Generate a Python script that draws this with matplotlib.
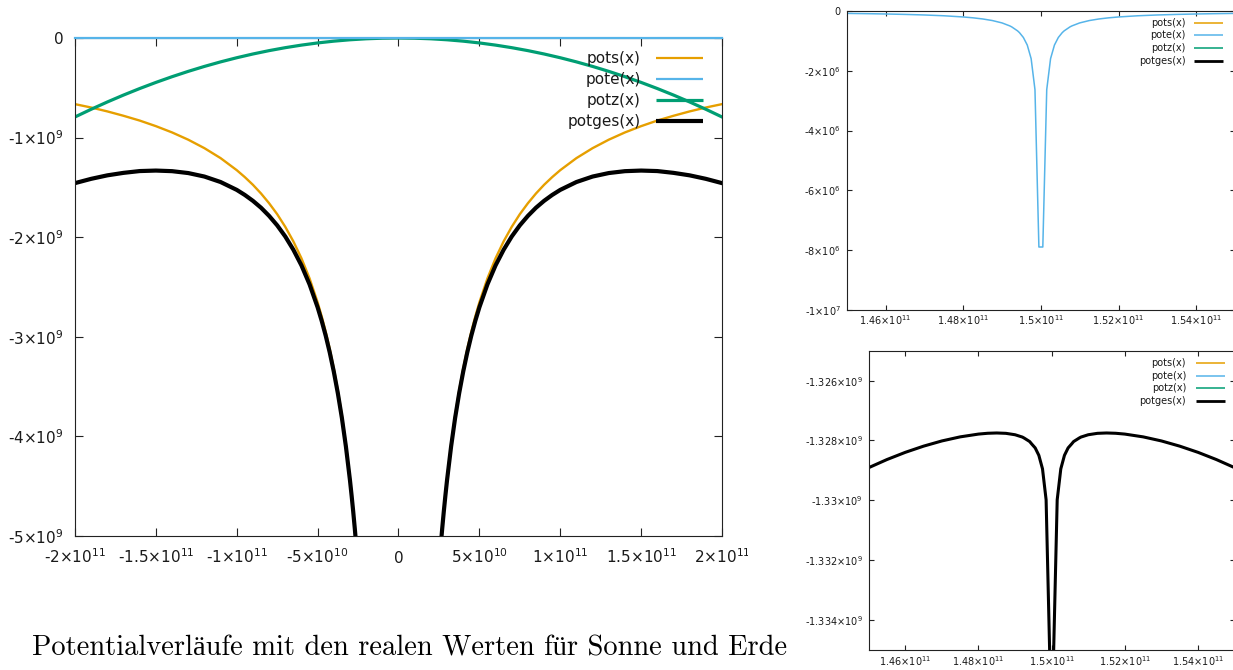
import matplotlib.pyplot as plt
from matplotlib.transforms import Bbox, TransformedBbox
import numpy as np

plt.rcParams['font.family'] = ['DejaVu Sans']
plt.rcParams['mathtext.default'] = 'regular'

# potentials: sun, earth, centrifugal, total
names = ['pots(x)', 'pote(x)', 'potz(x)', 'potges(x)']
colours = ['#e69f00', '#56b4e9', '#009e73', 'black']

# --- whole range, x in 1e10 m, potentials in 1e9 J/kg
sun_x = [-20, -19, -18, -17, -16, -15, -14, -13, -12, -11, -10, -9.5, -9, -8.5, -8, -7.5, -7, -6.5, -6, -5.5,
         -5, -4.75, -4.5, -4.25, -4, -3.75, -3.5, -3.25, -3, -2.9, -2.8, -2.7, -2.6,
         2.6, 2.7, 2.8, 2.9, 3, 3.25, 3.5, 3.75, 4, 4.25, 4.5, 4.75, 5,
         5.5, 6, 6.5, 7, 7.5, 8, 8.5, 9, 9.5, 10, 11, 12, 13, 14, 15, 16, 17, 18, 19, 20]
sun_pot = [-0.664, -0.698, -0.737, -0.781, -0.829, -0.885, -0.948, -1.021, -1.106, -1.206, -1.327, -1.397,
           -1.474, -1.561, -1.659, -1.769, -1.896, -2.042, -2.212, -2.413,
           -2.654, -2.794, -2.949, -3.122, -3.318, -3.539, -3.791, -4.083, -4.423, -4.576, -4.739, -4.915, -5.104,
           -5.104, -4.915, -4.739, -4.576, -4.423, -4.083, -3.791, -3.539, -3.318, -3.122, -2.949, -2.794, -2.654,
           -2.413, -2.212, -2.042, -1.896, -1.769, -1.659, -1.561, -1.474, -1.397, -1.327, -1.206, -1.106, -1.021,
           -0.948, -0.885, -0.829, -0.781, -0.737, -0.698, -0.664]

# earth potential on the whole range, x in 1e10 m, values in 1e6 J/kg
earth_x = [-20, -10, 0, 10, 14, 14.747, 15.152, 16, 20]
earth_pot = [-0.0011, -0.0016, -0.0027, -0.0080, -0.0399, -0.157, -0.263, -0.0399, -0.0080]

centri_x = [-20, -19, -18, -17, -16, -15, -14, -13, -12, -11, -10, -9, -8, -7, -6, -5, -4, -3, -2, -1, 0,
            1, 2, 3, 4, 5, 6, 7, 8, 9, 10, 11, 12, 13, 14, 15, 16, 17, 18, 19, 20]
centri_pot = [-0.7928, -0.7155, -0.6422, -0.5728, -0.5074, -0.4460, -0.3885, -0.3350, -0.2854, -0.2398, -0.1982,
              -0.1605, -0.1268, -0.0971, -0.0714, -0.0496, -0.0317, -0.0178, -0.0079, -0.0020, 0,
              -0.0020, -0.0079, -0.0178, -0.0317, -0.0496, -0.0714, -0.0971, -0.1268, -0.1605, -0.1982,
              -0.2398, -0.2854, -0.3350, -0.3885, -0.4460, -0.5074, -0.5728, -0.6422, -0.7155, -0.7928]

total_x = sun_x
total_pot = [-1.457, -1.414, -1.379, -1.354, -1.336, -1.331, -1.337, -1.356, -1.391, -1.446, -1.525, -1.576,
             -1.635, -1.704, -1.786, -1.881, -1.993, -2.126, -2.283, -2.473,
             -2.704, -2.839, -2.989, -3.158, -3.350, -3.567, -3.815, -4.104, -4.441, -4.593, -4.755, -4.929, -5.117,
             -5.117, -4.929, -4.755, -4.593, -4.441, -4.104, -3.815, -3.567, -3.350, -3.158, -2.989, -2.839, -2.704,
             -2.473, -2.283, -2.126, -1.993, -1.881, -1.786, -1.704, -1.635, -1.576, -1.525, -1.446, -1.391, -1.356,
             -1.337, -1.331, -1.336, -1.354, -1.379, -1.414, -1.457]

# --- close to the earth, x in 1e11 m
near_x = [1.45, 1.455, 1.46, 1.465, 1.47, 1.475, 1.48, 1.4825, 1.485, 1.4875, 1.49, 1.492, 1.4925, 1.494, 1.4945,
          1.4955, 1.4965, 1.4975, 1.498485, 1.499495, 1.500505, 1.501515, 1.5025, 1.5035, 1.5045, 1.5055, 1.506,
          1.5075, 1.508, 1.51, 1.5125, 1.515, 1.5175, 1.52, 1.525, 1.53, 1.535, 1.54, 1.545, 1.55]
# earth potential in 1e6 J/kg
near_earth = [-0.0797, -0.0886, -0.0997, -0.1139, -0.1329, -0.1594, -0.1993, -0.2278, -0.2657, -0.3189, -0.3986,
              -0.4983, -0.5315, -0.6643, -0.7247, -0.8858, -1.1389, -1.5944, -2.6310, -7.8931, -7.8931, -2.6310,
              -1.5944, -1.1389, -0.8858, -0.7247, -0.6643, -0.5315, -0.4983, -0.3986, -0.3189, -0.2657, -0.2278,
              -0.1993, -0.1594, -0.1329, -0.1139, -0.0997, -0.0886, -0.0797]
# total potential in 1e9 J/kg
near_total = [-1.328908, -1.328636, -1.328396, -1.328189, -1.328015, -1.327879, -1.327786, -1.327759, -1.327749,
              -1.327761, -1.327808, -1.327886, -1.327920, -1.328036, -1.328110, -1.328248, -1.328496, -1.328948,
              -1.329982, -1.335243, -1.335243, -1.329982, -1.328948, -1.328496, -1.328248, -1.328110, -1.328036,
              -1.327920, -1.327886, -1.327808, -1.327761, -1.327749, -1.327759, -1.327786, -1.327879, -1.328015,
              -1.328189, -1.328396, -1.328636, -1.328908]

main_xticks = [-2e11, -1.5e11, -1e11, -5e10, 0, 5e10, 1e11, 1.5e11, 2e11]
main_xlabels = ['-2×10$^{11}$', '-1.5×10$^{11}$', '-1×10$^{11}$', '-5×10$^{10}$', '0',
                '5×10$^{10}$', '1×10$^{11}$', '1.5×10$^{11}$', '2×10$^{11}$']
main_yticks = [0, -1e9, -2e9, -3e9, -4e9, -5e9]
main_ylabels = ['0', '-1×10$^{9}$', '-2×10$^{9}$', '-3×10$^{9}$', '-4×10$^{9}$', '-5×10$^{9}$']

near_xticks = [1.46e11, 1.48e11, 1.5e11, 1.52e11, 1.54e11]
near_xlabels = ['1.46×10$^{11}$', '1.48×10$^{11}$', '1.5×10$^{11}$', '1.52×10$^{11}$', '1.54×10$^{11}$']
earth_yticks = [0, -2e6, -4e6, -6e6, -8e6, -1e7]
earth_ylabels = ['0', '-2×10$^{6}$', '-4×10$^{6}$', '-6×10$^{6}$', '-8×10$^{6}$', '-1×10$^{7}$']
total_yticks = [-1.326e9, -1.328e9, -1.33e9, -1.332e9, -1.334e9]
total_ylabels = ['-1.326×10$^{9}$', '-1.328×10$^{9}$', '-1.33×10$^{9}$', '-1.332×10$^{9}$', '-1.334×10$^{9}$']

caption = 'Potentialverläufe mit den realen Werten für Sonne und Erde'

W, H = 1233, 670
fig = plt.figure(figsize=(W / 100, H / 100), dpi=100)


def box(left, top, right, bottom):
    # axes rectangle from pixel edges
    return [left / W, 1 - bottom / H, (right - left) / W, (bottom - top) / H]


def frame(ax, ticklen, fs, xpad, ypad):
    for s in ax.spines.values():
        s.set_linewidth(0.8)
        s.set_color('#222222')
    ax.tick_params(direction='in', top=True, right=True, length=ticklen, width=0.8,
                   color='#222222', labelsize=fs, labelcolor='#1a1a1a')
    ax.tick_params(axis='x', pad=xpad)
    ax.tick_params(axis='y', pad=ypad)


def key(ax, tx, x0, x1, y0, dy, fs, widths):
    for i, (name, col, lw) in enumerate(zip(names, colours, widths)):
        y = y0 - i * dy
        ax.text(tx, y, name, transform=ax.transAxes, ha='right', va='center',
                fontsize=fs, color='#1a1a1a')
        ax.plot([x0, x1], [y, y], transform=ax.transAxes, color=col, lw=lw,
                clip_on=False, solid_capstyle='butt')


# main panel
ax = fig.add_axes(box(75, 38, 722, 536))
ax.plot(np.array(sun_x) * 1e10, np.array(sun_pot) * 1e9, color=colours[0], lw=1.7)
ax.plot(np.array(earth_x) * 1e10, np.array(earth_pot) * 1e6, color=colours[1], lw=1.6,
        clip_on=False, zorder=3)
ax.plot(np.array(centri_x) * 1e10, np.array(centri_pot) * 1e9, color=colours[2], lw=2.3)
ax.plot(np.array(total_x) * 1e10, np.array(total_pot) * 1e9, color=colours[3], lw=3.0)
ax.set_xlim(-2e11, 2e11)
ax.set_ylim(-5e9, 0)
ax.set_xticks(main_xticks, main_xlabels, va='baseline')
ax.set_yticks(main_yticks, main_ylabels)
frame(ax, 5.8, 11, 19.4, 8)
last = ax.get_xticklabels()[-1]
last.set_clip_box(TransformedBbox(Bbox.from_extents(0, 0, 748 / W, 1), fig.transFigure))
last.set_clip_on(True)
key(ax, 0.8748, 0.898, 0.9706, 0.9598, 0.0422, 11, [1.6, 1.6, 2.3, 3.0])

# earth potential near the earth
ax2 = fig.add_axes(box(846.7, 11, 1235, 310))
ax2.plot(np.array(near_x) * 1e11, np.array(near_earth) * 1e6, color=colours[1], lw=1.1)
ax2.set_xlim(1.45e11, 1.55e11)
ax2.set_ylim(-1e7, 0)
ax2.set_xticks(near_xticks, near_xlabels, va='baseline')
ax2.set_yticks(earth_yticks, earth_ylabels)
frame(ax2, 3.6, 7, 10.8, 4.3)
key(ax2, 0.8736, 0.8942, 0.9688, 0.961, 0.0425, 7, [1.1, 1.1, 1.1, 2.0])

# total potential near the earth
ax3 = fig.add_axes(box(868.7, 350.7, 1234.6, 650))
ax3.plot(np.array(near_x) * 1e11, np.array(near_total) * 1e9, color=colours[3], lw=2.2)
ax3.set_xlim(1.45e11, 1.55e11)
ax3.set_ylim(-1.335e9, -1.325e9)
ax3.set_xticks(near_xticks, near_xlabels, va='baseline')
ax3.set_yticks(total_yticks, total_ylabels)
frame(ax3, 3.6, 7, 11.5, 4.3)
key(ax3, 0.8672, 0.8946, 0.9739, 0.9599, 0.0428, 7, [1.1, 1.1, 1.1, 2.0])

fig.text(32 / W, 1 - 655 / H, caption, fontfamily=['cmr10', 'Liberation Serif'],
         fontsize=20.5, ha='left', va='baseline', color='black')

fig.savefig('out.png', dpi=100)
